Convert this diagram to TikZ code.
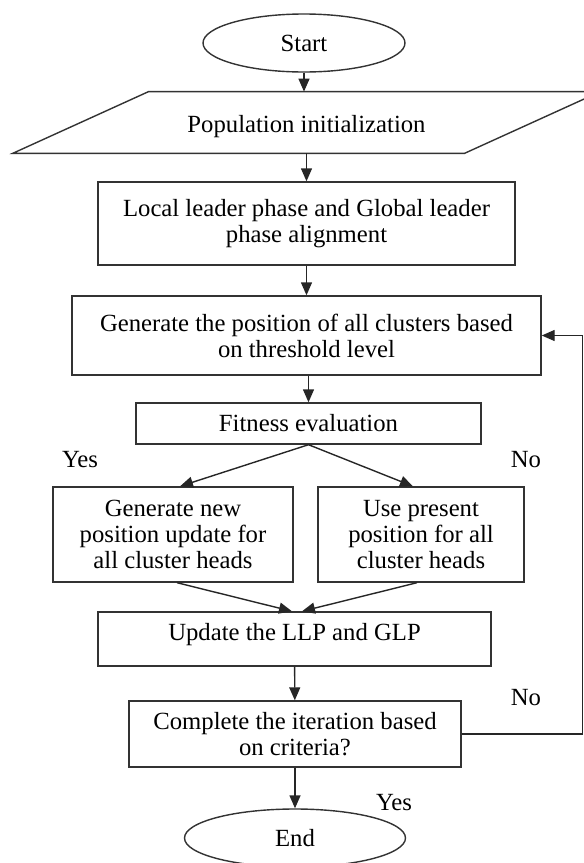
\documentclass[tikz,border=0pt]{standalone}
\usepackage{fontspec}
\setmainfont{Liberation Serif}
\usetikzlibrary{shapes.geometric,arrows.meta}

\begin{document}
\begin{tikzpicture}[x=0.5pt,y=-0.5pt,
  font=\fontsize{12.35pt}{13pt}\selectfont,
  box/.style={draw=black!80, line width=0.7pt, rectangle, inner sep=0pt, align=center},
  term/.style={draw=black!80, line width=0.7pt, ellipse, inner sep=0pt},
  arr/.style={draw=black!85, line width=0.7pt, -{Triangle[length=6.5pt,width=5.5pt]}}]
\useasboundingbox (0,0) rectangle (584,863);

% Start and population
\node[term, minimum width=101pt, minimum height=29pt] (start) at (304,43) {Start};
\node[inner sep=0pt, minimum width=225.5pt, minimum height=30.5pt, text height=12.5pt, text depth=2.5pt] (pop) at (306.5,122.5) {Population initialization};
\draw[black!80, line width=0.7pt] ([xshift=-34pt]pop.south west) -- ([xshift=34pt]pop.north west)
  -- ([xshift=34pt]pop.north east) -- ([xshift=-34pt]pop.south east) -- cycle;

% Leader phases
\node[box, minimum width=208.5pt, minimum height=41.5pt] (local) at (306.5,223.5) {Local leader phase and Global leader\\phase alignment};
\node[box, minimum width=234.5pt, minimum height=39.5pt] (gen) at (306.5,335.5) {Generate the position of all clusters based\\on threshold level};
\node[box, minimum width=172.5pt, minimum height=20.5pt] (fit) at (308.5,423.5) {Fitness evaluation};

% Two branches
\node[box, minimum width=120pt, minimum height=47.5pt] (newpos) at (173,534.5) {Generate new\\position update for\\all cluster heads};
\node[box, minimum width=103pt, minimum height=47.5pt] (usepos) at (421,534.5) {Use present\\position for all\\cluster heads};
\node at (80,460) {Yes};
\node at (526,460) {No};

% Update and check
\node[box, minimum width=196.5pt, minimum height=27pt, text height=8.5pt, text depth=7pt] (upd) at (294.5,639) {Update the LLP and GLP};
\node[box, minimum width=166pt, minimum height=33pt] (comp) at (295,734) {Complete the iteration based\\on criteria?};
\node[term, minimum width=110.5pt, minimum height=29pt] (end) at (295,838) {End};
\node at (526,698) {No};
\node at (394,803) {Yes};

% Arrows
\draw[arr] (start.south |- start.south) -- (start.south |- pop.north);
\draw[arr] (pop.south -| local.north) -- (local.north);
\draw[arr] (local) -- (gen);
\draw[arr] (gen.south -| fit.north) -- (fit.north);
\draw[arr] (fit.south) -- ([xshift=3.5pt]newpos.north);
\draw[arr] (fit.south) -- ([xshift=-4pt]usepos.north);
\draw[arr] ([xshift=2pt]newpos.south) -- ([xshift=-1.25pt]upd.north);
\draw[arr] ([xshift=-2pt]usepos.south) -- ([xshift=3.75pt]upd.north);
\draw[arr] (upd) -- (comp);
\draw[arr] (comp) -- (end);
\draw[arr] (comp.east) -- ++(60.5pt,0) |- (gen.east);
\end{tikzpicture}
\end{document}
